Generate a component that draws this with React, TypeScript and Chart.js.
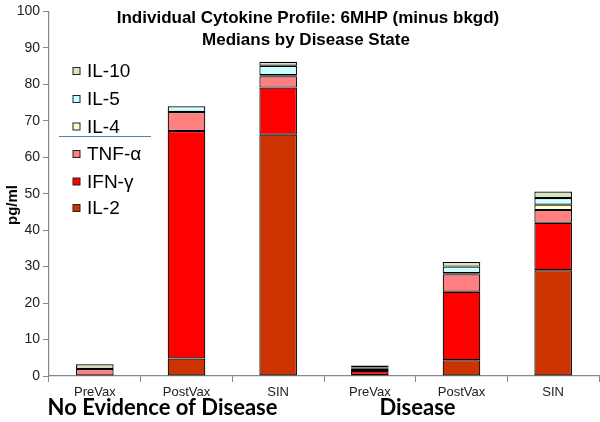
import React, { useEffect, useRef } from "react";
import { Chart, registerables } from "chart.js";

Chart.register(...registerables);

const categories = ["PreVax", "PostVax", "SIN", "PreVax", "PostVax", "SIN"];
const il2 = [0, 4.8, 66.2, 0.3, 4.3, 29.0];
const ifng = [0, 62.4, 12.9, 1.1, 18.8, 13.0];
const tnfa = [1.9, 5.2, 3.1, 0.6, 4.8, 3.5];
const il4 = [0, 0, 0.3, 0.3, 0.3, 1.5];
const il5 = [0, 1.6, 2.6, 0, 1.8, 1.8];
const il10 = [1.3, 0, 1.1, 0.6, 1.3, 1.8];
const yTicks = [0, 10, 20, 30, 40, 50, 60, 70, 80, 90, 100];
const groups = ["No Evidence of Disease", "Disease"];
const titleLines = ["Individual Cytokine Profile: 6MHP (minus bkgd)", "Medians by Disease State"];
const yTitle = "pg/ml";

const series = [
  { label: "IL-2", data: il2, color: "#CC3300" },
  { label: "IFN-γ", data: ifng, color: "#FF0000" },
  { label: "TNF-α", data: tnfa, color: "#FF8080" },
  { label: "IL-4", data: il4, color: "#FFFFCC" },
  { label: "IL-5", data: il5, color: "#CCFFFF" },
  { label: "IL-10", data: il10, color: "#D7E4BD" },
];

const decor = {
  id: "decor",
  afterDraw(chart: any) {
    const ctx = chart.ctx as CanvasRenderingContext2D;
    const x = chart.scales.x;
    ctx.save();
    ctx.fillStyle = "#000";
    ctx.textAlign = "center";
    ctx.textBaseline = "middle";
    ctx.font = "bold 17px 'Liberation Sans', Arial, sans-serif";
    ctx.fillText(titleLines[0], 308, 18);
    ctx.fillText(titleLines[1], 306, 40);
    ctx.save();
    ctx.translate(13, 205);
    ctx.rotate(-Math.PI / 2);
    ctx.font = "bold 15px 'Liberation Sans', Arial, sans-serif";
    ctx.fillText(yTitle, 0, 0);
    ctx.restore();
    ctx.font = "bold 22px Lato, 'Noto Sans', sans-serif";
    ctx.fillText(groups[0], x.getPixelForValue(1) - 24, 408);
    ctx.fillText(groups[1], x.getPixelForValue(4) - 44, 408);
    const order = [5, 4, 3, -1, 2, 1, 0];
    const ys = [71, 99, 126.5, 136.5, 154, 181.5, 208];
    ctx.textAlign = "left";
    ctx.font = "19px 'Liberation Sans', Arial, sans-serif";
    order.forEach((si, i) => {
      const yy = ys[i];
      if (si < 0) {
        ctx.strokeStyle = "#4F81BD";
        ctx.lineWidth = 1.2;
        ctx.beginPath();
        ctx.moveTo(59, yy);
        ctx.lineTo(151, yy);
        ctx.stroke();
        return;
      }
      const s = series[si];
      ctx.fillStyle = s.color;
      ctx.fillRect(73, yy - 3.5, 7, 7);
      ctx.strokeStyle = "#222";
      ctx.lineWidth = 1;
      ctx.strokeRect(73, yy - 3.5, 7, 7);
      ctx.fillStyle = "#000";
      ctx.fillText(s.label, 87, yy + 1);
    });
    ctx.restore();
  },
};

export default function App() {
  const ref = useRef<HTMLCanvasElement>(null);
  useEffect(() => {
    document.body.style.margin = "0";
    const chart = new Chart(ref.current!, {
      type: "bar",
      data: {
        labels: categories,
        datasets: series.map((s) => ({
          label: s.label,
          data: s.data,
          backgroundColor: s.color,
          borderColor: "#000",
          borderWidth: (c: any) => (c.raw ? 1.2 : 0),
          borderSkipped: false,
          categoryPercentage: 1,
          barPercentage: 0.41,
        })),
      },
      options: {
        animation: false,
        responsive: false,
        maintainAspectRatio: false,
        layout: { padding: { top: 6, right: 1, left: 0, bottom: 0 } },
        plugins: { legend: { display: false }, title: { display: false }, tooltip: { enabled: false } },
        scales: {
          x: {
            stacked: true,
            grid: { display: true, drawOnChartArea: false, drawTicks: true, tickLength: 6, color: "#888", offset: true },
            border: { display: true, color: "#888", width: 1.2 },
            ticks: { color: "#222", font: { size: 13, family: "'Liberation Sans', Arial, sans-serif" }, padding: 3, maxRotation: 0 },
            afterFit: (s: any) => { s.height = 46; },
          },
          y: {
            stacked: true,
            min: 0,
            max: 100,
            grid: { display: true, drawOnChartArea: false, drawTicks: true, tickLength: 6, color: "#888" },
            border: { display: true, color: "#888", width: 1.2 },
            afterBuildTicks: (s: any) => { s.ticks = yTicks.map((v) => ({ value: v })); },
            ticks: { color: "#222", font: { size: 14, family: "'Liberation Sans', Arial, sans-serif" }, padding: 3 },
            afterFit: (s: any) => { s.width = 49; },
          },
        },
      },
      plugins: [decor],
    });
    return () => chart.destroy();
  }, []);
  return (
    <div style={{ position: "absolute", left: 0, top: 0, width: 600, height: 422, background: "#fff" }}>
      <canvas ref={ref} width={600} height={422} style={{ width: 600, height: 422 }} />
    </div>
  );
}
